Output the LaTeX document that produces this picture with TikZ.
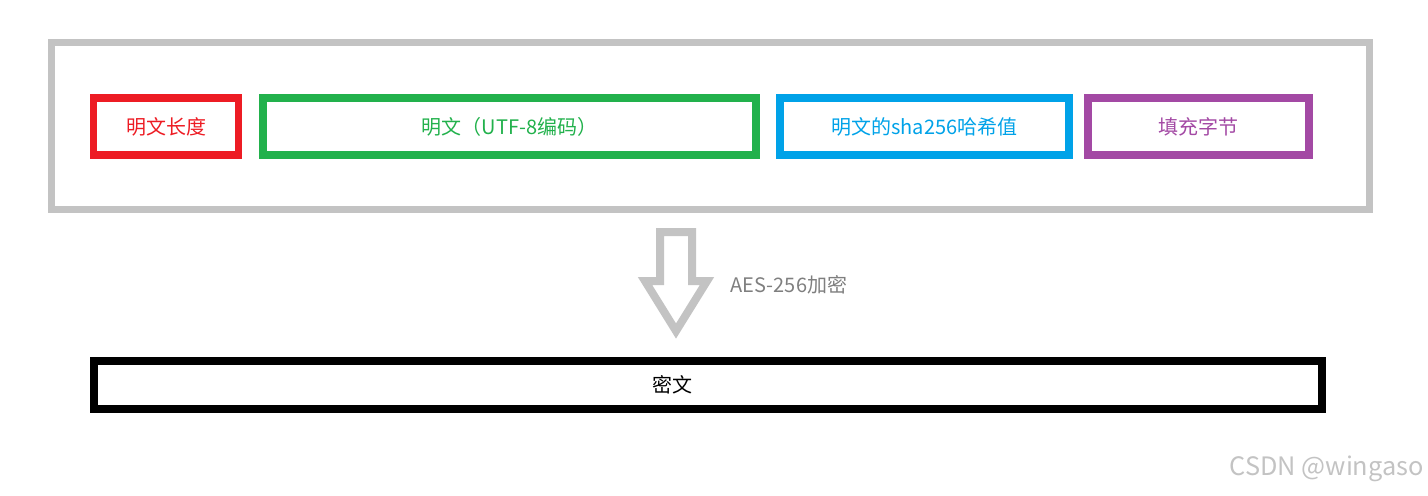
\documentclass[tikz,border=0pt]{standalone}
\usepackage{fontspec}
\setmainfont{Noto Sans CJK SC}
\usetikzlibrary{positioning}

\definecolor{boxred}{HTML}{ED1C24}
\definecolor{boxgreen}{HTML}{22B14C}
\definecolor{boxblue}{HTML}{00A2E8}
\definecolor{boxpurple}{HTML}{A349A4}
\definecolor{frame}{HTML}{C3C3C3}
\definecolor{labelgray}{HTML}{7F7F7F}

\begin{document}
\begin{tikzpicture}[x=0.75pt, y=-0.75pt,
    field/.style={draw, line width=5.5pt, rectangle, inner sep=0pt, font=\fontsize{15}{18}\selectfont}]

        % Define one pixel of the reference
        \def\px{0.75pt}
        \useasboundingbox (0,0) rectangle (1428,496);

        % Outer frame round the plaintext block
        \node[draw=frame, line width=5.25pt, inner sep=0pt, minimum width=1318*\px, minimum height=167*\px] (block) at (710,126) {};

        % Loop to draw the fields of the block and add labels
        \foreach \name/\x/\w/\col/\txt in {len/166/145/boxred/明文长度,
                                            plain/509.5/493/boxgreen/明文（UTF-8编码）,
                                            hash/924.5/289/boxblue/明文的sha256哈希值,
                                            pad/1198.5/221/boxpurple/填充字节} {
            \node[field, draw=\col, text=\col, minimum width=\w*\px, minimum height=57*\px] (\name) at (\x,126.5) {\txt};
        }

        % Hollow arrow for the encryption step
        \coordinate (arr) at (676,232);
        \draw[frame, line width=6pt] (arr) ++(-16,0) -- ++(32,0) -- ++(0,49) -- ++(15,0) -- ++(-31,50) -- ++(-31,-50) -- ++(15,0) -- cycle;
        \node[anchor=west, text=labelgray, font=\fontsize{15}{18}\selectfont] (aes) at (726,285) {AES-256加密};

        % Ciphertext
        \node[field, draw=black, line width=6pt, minimum width=1228*\px, minimum height=48*\px] (cipher) at (708,385) {};
        \node[font=\fontsize{15}{18}\selectfont, inner sep=0pt] (ctext) at (672,385) {密文};

        % Watermark
        \node[anchor=east, text=frame, font=\fontsize{19}{22}\selectfont, inner sep=0pt] (mark) at (1424,469) {CSDN @wingaso};

    \end{tikzpicture}
\end{document}
